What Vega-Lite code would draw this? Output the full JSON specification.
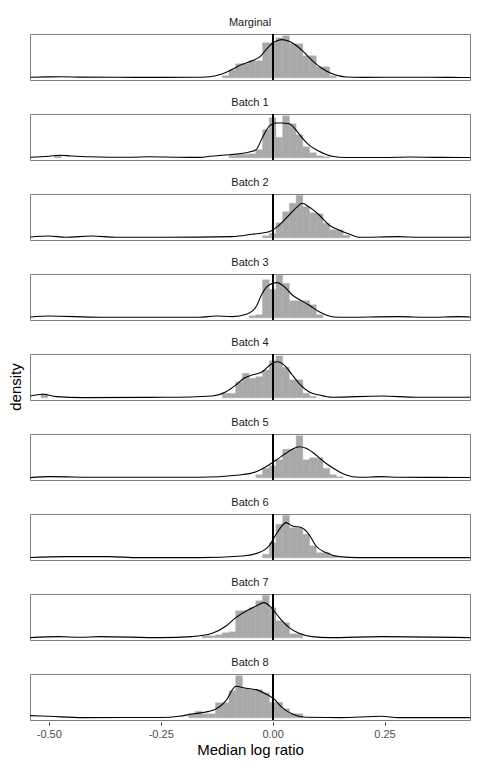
{
"$schema": "https://vega.github.io/schema/vega-lite/v6.json",
"padding": {"left": 8, "top": 16, "right": 9, "bottom": 5},
"config": {"font": "Liberation Sans", "view": {"stroke": "#7f7f7f", "strokeWidth": 1}, "axis": {"grid": false}},
"title": {"text": "density", "orient": "left", "anchor": "middle", "fontSize": 15, "fontWeight": "normal", "color": "#000000", "offset": 6},
"data": {"values": [
{"b":"Marginal","t":"h","lo":-0.1125,"hi":-0.0975,"v":2},
{"b":"Marginal","t":"h","lo":-0.0975,"hi":-0.0825,"v":8},
{"b":"Marginal","t":"h","lo":-0.0825,"hi":-0.0675,"v":14},
{"b":"Marginal","t":"h","lo":-0.0675,"hi":-0.0525,"v":14},
{"b":"Marginal","t":"h","lo":-0.0525,"hi":-0.0375,"v":17},
{"b":"Marginal","t":"h","lo":-0.0375,"hi":-0.0225,"v":17},
{"b":"Marginal","t":"h","lo":-0.0225,"hi":-0.0075,"v":35},
{"b":"Marginal","t":"h","lo":-0.0075,"hi":0.0075,"v":35},
{"b":"Marginal","t":"h","lo":0.0075,"hi":0.0225,"v":40},
{"b":"Marginal","t":"h","lo":0.0225,"hi":0.0375,"v":42},
{"b":"Marginal","t":"h","lo":0.0375,"hi":0.0525,"v":34},
{"b":"Marginal","t":"h","lo":0.0525,"hi":0.0675,"v":34},
{"b":"Marginal","t":"h","lo":0.0675,"hi":0.0825,"v":22},
{"b":"Marginal","t":"h","lo":0.0825,"hi":0.0975,"v":22},
{"b":"Marginal","t":"h","lo":0.0975,"hi":0.1125,"v":11},
{"b":"Marginal","t":"h","lo":0.1125,"hi":0.1275,"v":11},
{"b":"Marginal","t":"h","lo":0.1275,"hi":0.1425,"v":2},
{"b":"Marginal","t":"d","x":-0.541,"v":0.5},
{"b":"Marginal","t":"d","x":-0.5,"v":0.9},
{"b":"Marginal","t":"d","x":-0.47,"v":1.0},
{"b":"Marginal","t":"d","x":-0.43,"v":0.7},
{"b":"Marginal","t":"d","x":-0.35,"v":0.5},
{"b":"Marginal","t":"d","x":-0.25,"v":0.4},
{"b":"Marginal","t":"d","x":-0.18,"v":0.5},
{"b":"Marginal","t":"d","x":-0.14,"v":1.1},
{"b":"Marginal","t":"d","x":-0.113,"v":3.8},
{"b":"Marginal","t":"d","x":-0.09,"v":8.5},
{"b":"Marginal","t":"d","x":-0.068,"v":13.5},
{"b":"Marginal","t":"d","x":-0.046,"v":17},
{"b":"Marginal","t":"d","x":-0.026,"v":22},
{"b":"Marginal","t":"d","x":-0.015,"v":28},
{"b":"Marginal","t":"d","x":-0.008,"v":31.5},
{"b":"Marginal","t":"d","x":0.001,"v":35},
{"b":"Marginal","t":"d","x":0.01,"v":37},
{"b":"Marginal","t":"d","x":0.021,"v":38.2},
{"b":"Marginal","t":"d","x":0.037,"v":36.5},
{"b":"Marginal","t":"d","x":0.052,"v":32.5},
{"b":"Marginal","t":"d","x":0.068,"v":26.5},
{"b":"Marginal","t":"d","x":0.088,"v":17.5},
{"b":"Marginal","t":"d","x":0.11,"v":9.5},
{"b":"Marginal","t":"d","x":0.133,"v":4},
{"b":"Marginal","t":"d","x":0.164,"v":0.8},
{"b":"Marginal","t":"d","x":0.2,"v":0.4},
{"b":"Marginal","t":"d","x":0.25,"v":0.5},
{"b":"Marginal","t":"d","x":0.3,"v":0.5},
{"b":"Marginal","t":"d","x":0.35,"v":0.5},
{"b":"Marginal","t":"d","x":0.4,"v":0.4},
{"b":"Marginal","t":"d","x":0.441,"v":0.3},

{"b":"Batch 1","t":"h","lo":-0.4875,"hi":-0.4725,"v":2.5},
{"b":"Batch 1","t":"h","lo":-0.0975,"hi":-0.0825,"v":2},
{"b":"Batch 1","t":"h","lo":-0.0825,"hi":-0.0675,"v":3.5},
{"b":"Batch 1","t":"h","lo":-0.0675,"hi":-0.0525,"v":3.5},
{"b":"Batch 1","t":"h","lo":-0.0525,"hi":-0.0375,"v":4},
{"b":"Batch 1","t":"h","lo":-0.0375,"hi":-0.0225,"v":8},
{"b":"Batch 1","t":"h","lo":-0.0225,"hi":-0.0075,"v":28},
{"b":"Batch 1","t":"h","lo":-0.0075,"hi":0.0075,"v":40},
{"b":"Batch 1","t":"h","lo":0.0075,"hi":0.0225,"v":20.5},
{"b":"Batch 1","t":"h","lo":0.0225,"hi":0.0375,"v":42},
{"b":"Batch 1","t":"h","lo":0.0375,"hi":0.0525,"v":34},
{"b":"Batch 1","t":"h","lo":0.0525,"hi":0.0675,"v":23},
{"b":"Batch 1","t":"h","lo":0.0675,"hi":0.0825,"v":11},
{"b":"Batch 1","t":"h","lo":0.0825,"hi":0.0975,"v":5},
{"b":"Batch 1","t":"h","lo":0.0975,"hi":0.1125,"v":2},
{"b":"Batch 1","t":"h","lo":0.1125,"hi":0.1275,"v":1},
{"b":"Batch 1","t":"d","x":-0.541,"v":0.5},
{"b":"Batch 1","t":"d","x":-0.5,"v":1.5},
{"b":"Batch 1","t":"d","x":-0.477,"v":2.6},
{"b":"Batch 1","t":"d","x":-0.45,"v":1.8},
{"b":"Batch 1","t":"d","x":-0.41,"v":1},
{"b":"Batch 1","t":"d","x":-0.32,"v":0.5},
{"b":"Batch 1","t":"d","x":-0.276,"v":1},
{"b":"Batch 1","t":"d","x":-0.21,"v":0.5},
{"b":"Batch 1","t":"d","x":-0.16,"v":0.4},
{"b":"Batch 1","t":"d","x":-0.14,"v":1.5},
{"b":"Batch 1","t":"d","x":-0.097,"v":3},
{"b":"Batch 1","t":"d","x":-0.052,"v":5.8},
{"b":"Batch 1","t":"d","x":-0.037,"v":8},
{"b":"Batch 1","t":"d","x":-0.023,"v":20},
{"b":"Batch 1","t":"d","x":-0.008,"v":31.5},
{"b":"Batch 1","t":"d","x":0.0,"v":33.8},
{"b":"Batch 1","t":"d","x":0.008,"v":34.8},
{"b":"Batch 1","t":"d","x":0.02,"v":34.8},
{"b":"Batch 1","t":"d","x":0.037,"v":34},
{"b":"Batch 1","t":"d","x":0.052,"v":28},
{"b":"Batch 1","t":"d","x":0.066,"v":20},
{"b":"Batch 1","t":"d","x":0.081,"v":13},
{"b":"Batch 1","t":"d","x":0.104,"v":6.5},
{"b":"Batch 1","t":"d","x":0.133,"v":1.5},
{"b":"Batch 1","t":"d","x":0.164,"v":0.3},
{"b":"Batch 1","t":"d","x":0.25,"v":0.3},
{"b":"Batch 1","t":"d","x":0.305,"v":0.8},
{"b":"Batch 1","t":"d","x":0.372,"v":0.4},
{"b":"Batch 1","t":"d","x":0.441,"v":0.3},

{"b":"Batch 2","t":"h","lo":-0.0225,"hi":-0.0075,"v":2},
{"b":"Batch 2","t":"h","lo":-0.0075,"hi":0.0075,"v":4.5},
{"b":"Batch 2","t":"h","lo":0.0075,"hi":0.0225,"v":15},
{"b":"Batch 2","t":"h","lo":0.0225,"hi":0.0375,"v":26},
{"b":"Batch 2","t":"h","lo":0.0375,"hi":0.0525,"v":34.5},
{"b":"Batch 2","t":"h","lo":0.0525,"hi":0.0675,"v":42.5},
{"b":"Batch 2","t":"h","lo":0.0675,"hi":0.0825,"v":31},
{"b":"Batch 2","t":"h","lo":0.0825,"hi":0.0975,"v":25},
{"b":"Batch 2","t":"h","lo":0.0975,"hi":0.1125,"v":24},
{"b":"Batch 2","t":"h","lo":0.1125,"hi":0.1275,"v":14.5},
{"b":"Batch 2","t":"h","lo":0.1275,"hi":0.1425,"v":8},
{"b":"Batch 2","t":"h","lo":0.1425,"hi":0.1575,"v":8},
{"b":"Batch 2","t":"h","lo":0.1575,"hi":0.1725,"v":2.5},
{"b":"Batch 2","t":"d","x":-0.541,"v":0.8},
{"b":"Batch 2","t":"d","x":-0.5,"v":1.8},
{"b":"Batch 2","t":"d","x":-0.462,"v":0.5},
{"b":"Batch 2","t":"d","x":-0.404,"v":1.8},
{"b":"Batch 2","t":"d","x":-0.35,"v":0.5},
{"b":"Batch 2","t":"d","x":-0.24,"v":0.5},
{"b":"Batch 2","t":"d","x":-0.09,"v":1.2},
{"b":"Batch 2","t":"d","x":-0.046,"v":3.5},
{"b":"Batch 2","t":"d","x":-0.008,"v":6},
{"b":"Batch 2","t":"d","x":0.015,"v":12.8},
{"b":"Batch 2","t":"d","x":0.037,"v":22.8},
{"b":"Batch 2","t":"d","x":0.055,"v":31},
{"b":"Batch 2","t":"d","x":0.066,"v":34.5},
{"b":"Batch 2","t":"d","x":0.081,"v":31},
{"b":"Batch 2","t":"d","x":0.104,"v":22.8},
{"b":"Batch 2","t":"d","x":0.126,"v":12.8},
{"b":"Batch 2","t":"d","x":0.148,"v":7.8},
{"b":"Batch 2","t":"d","x":0.171,"v":3.8},
{"b":"Batch 2","t":"d","x":0.193,"v":0.5},
{"b":"Batch 2","t":"d","x":0.282,"v":1.2},
{"b":"Batch 2","t":"d","x":0.327,"v":0.5},
{"b":"Batch 2","t":"d","x":0.441,"v":0.5},

{"b":"Batch 3","t":"h","lo":-0.0525,"hi":-0.0375,"v":2},
{"b":"Batch 3","t":"h","lo":-0.0375,"hi":-0.0225,"v":3},
{"b":"Batch 3","t":"h","lo":-0.0225,"hi":-0.0075,"v":38},
{"b":"Batch 3","t":"h","lo":-0.0075,"hi":0.0075,"v":28.5},
{"b":"Batch 3","t":"h","lo":0.0075,"hi":0.0225,"v":43},
{"b":"Batch 3","t":"h","lo":0.0225,"hi":0.0375,"v":34.5},
{"b":"Batch 3","t":"h","lo":0.0375,"hi":0.0525,"v":17},
{"b":"Batch 3","t":"h","lo":0.0525,"hi":0.0675,"v":17},
{"b":"Batch 3","t":"h","lo":0.0675,"hi":0.0825,"v":17},
{"b":"Batch 3","t":"h","lo":0.0825,"hi":0.0975,"v":13},
{"b":"Batch 3","t":"h","lo":0.0975,"hi":0.1125,"v":3},
{"b":"Batch 3","t":"d","x":-0.541,"v":0.8},
{"b":"Batch 3","t":"d","x":-0.499,"v":1.8},
{"b":"Batch 3","t":"d","x":-0.387,"v":0.5},
{"b":"Batch 3","t":"d","x":-0.164,"v":0.5},
{"b":"Batch 3","t":"d","x":-0.126,"v":1.8},
{"b":"Batch 3","t":"d","x":-0.09,"v":1.2},
{"b":"Batch 3","t":"d","x":-0.057,"v":3.8},
{"b":"Batch 3","t":"d","x":-0.037,"v":11},
{"b":"Batch 3","t":"d","x":-0.023,"v":24.5},
{"b":"Batch 3","t":"d","x":-0.008,"v":32.8},
{"b":"Batch 3","t":"d","x":0.01,"v":35.2},
{"b":"Batch 3","t":"d","x":0.03,"v":29.5},
{"b":"Batch 3","t":"d","x":0.044,"v":22.8},
{"b":"Batch 3","t":"d","x":0.059,"v":18.5},
{"b":"Batch 3","t":"d","x":0.081,"v":12.8},
{"b":"Batch 3","t":"d","x":0.104,"v":6},
{"b":"Batch 3","t":"d","x":0.126,"v":1.8},
{"b":"Batch 3","t":"d","x":0.148,"v":0.5},
{"b":"Batch 3","t":"d","x":0.282,"v":1.2},
{"b":"Batch 3","t":"d","x":0.35,"v":0.5},
{"b":"Batch 3","t":"d","x":0.416,"v":1.2},
{"b":"Batch 3","t":"d","x":0.441,"v":0.8},

{"b":"Batch 4","t":"h","lo":-0.5175,"hi":-0.5025,"v":4},
{"b":"Batch 4","t":"h","lo":-0.1125,"hi":-0.0975,"v":4.5},
{"b":"Batch 4","t":"h","lo":-0.0975,"hi":-0.0825,"v":4.5},
{"b":"Batch 4","t":"h","lo":-0.0825,"hi":-0.0675,"v":16},
{"b":"Batch 4","t":"h","lo":-0.0675,"hi":-0.0525,"v":24.5},
{"b":"Batch 4","t":"h","lo":-0.0525,"hi":-0.0375,"v":19.5},
{"b":"Batch 4","t":"h","lo":-0.0375,"hi":-0.0225,"v":21},
{"b":"Batch 4","t":"h","lo":-0.0225,"hi":-0.0075,"v":27.8},
{"b":"Batch 4","t":"h","lo":-0.0075,"hi":0.0075,"v":37},
{"b":"Batch 4","t":"h","lo":0.0075,"hi":0.0225,"v":41.8},
{"b":"Batch 4","t":"h","lo":0.0225,"hi":0.0375,"v":30.5},
{"b":"Batch 4","t":"h","lo":0.0375,"hi":0.0525,"v":18},
{"b":"Batch 4","t":"h","lo":0.0525,"hi":0.0675,"v":18},
{"b":"Batch 4","t":"h","lo":0.0675,"hi":0.0825,"v":4.5},
{"b":"Batch 4","t":"h","lo":0.0825,"hi":0.0975,"v":1.5},
{"b":"Batch 4","t":"d","x":-0.541,"v":1.8},
{"b":"Batch 4","t":"d","x":-0.514,"v":3.5},
{"b":"Batch 4","t":"d","x":-0.483,"v":1.2},
{"b":"Batch 4","t":"d","x":-0.424,"v":0.2},
{"b":"Batch 4","t":"d","x":-0.24,"v":0.5},
{"b":"Batch 4","t":"d","x":-0.135,"v":1.8},
{"b":"Batch 4","t":"d","x":-0.104,"v":6},
{"b":"Batch 4","t":"d","x":-0.082,"v":12.8},
{"b":"Batch 4","t":"d","x":-0.064,"v":19.5},
{"b":"Batch 4","t":"d","x":-0.046,"v":22.8},
{"b":"Batch 4","t":"d","x":-0.023,"v":26},
{"b":"Batch 4","t":"d","x":-0.003,"v":33.8},
{"b":"Batch 4","t":"d","x":0.01,"v":36},
{"b":"Batch 4","t":"d","x":0.03,"v":31},
{"b":"Batch 4","t":"d","x":0.044,"v":22.8},
{"b":"Batch 4","t":"d","x":0.059,"v":14.5},
{"b":"Batch 4","t":"d","x":0.081,"v":6},
{"b":"Batch 4","t":"d","x":0.104,"v":2.8},
{"b":"Batch 4","t":"d","x":0.133,"v":0.5},
{"b":"Batch 4","t":"d","x":0.244,"v":1.8},
{"b":"Batch 4","t":"d","x":0.32,"v":0.5},
{"b":"Batch 4","t":"d","x":0.441,"v":0.5},

{"b":"Batch 5","t":"h","lo":-0.0375,"hi":-0.0225,"v":3},
{"b":"Batch 5","t":"h","lo":-0.0225,"hi":-0.0075,"v":9.5},
{"b":"Batch 5","t":"h","lo":-0.0075,"hi":0.0075,"v":12},
{"b":"Batch 5","t":"h","lo":0.0075,"hi":0.0225,"v":18},
{"b":"Batch 5","t":"h","lo":0.0225,"hi":0.0375,"v":28.5},
{"b":"Batch 5","t":"h","lo":0.0375,"hi":0.0525,"v":28.5},
{"b":"Batch 5","t":"h","lo":0.0525,"hi":0.0675,"v":42},
{"b":"Batch 5","t":"h","lo":0.0675,"hi":0.0825,"v":18},
{"b":"Batch 5","t":"h","lo":0.0825,"hi":0.0975,"v":20},
{"b":"Batch 5","t":"h","lo":0.0975,"hi":0.1125,"v":20},
{"b":"Batch 5","t":"h","lo":0.1125,"hi":0.1275,"v":9.5},
{"b":"Batch 5","t":"h","lo":0.1275,"hi":0.1425,"v":3},
{"b":"Batch 5","t":"h","lo":0.1425,"hi":0.1575,"v":1},
{"b":"Batch 5","t":"d","x":-0.541,"v":0.2},
{"b":"Batch 5","t":"d","x":-0.499,"v":1.2},
{"b":"Batch 5","t":"d","x":-0.387,"v":0.5},
{"b":"Batch 5","t":"d","x":-0.164,"v":0.5},
{"b":"Batch 5","t":"d","x":-0.075,"v":2.8},
{"b":"Batch 5","t":"d","x":-0.037,"v":6},
{"b":"Batch 5","t":"d","x":-0.015,"v":11},
{"b":"Batch 5","t":"d","x":0.008,"v":17.8},
{"b":"Batch 5","t":"d","x":0.03,"v":24.5},
{"b":"Batch 5","t":"d","x":0.044,"v":28.5},
{"b":"Batch 5","t":"d","x":0.059,"v":31},
{"b":"Batch 5","t":"d","x":0.075,"v":29.5},
{"b":"Batch 5","t":"d","x":0.097,"v":22.8},
{"b":"Batch 5","t":"d","x":0.119,"v":14.5},
{"b":"Batch 5","t":"d","x":0.142,"v":7.8},
{"b":"Batch 5","t":"d","x":0.164,"v":2.8},
{"b":"Batch 5","t":"d","x":0.193,"v":0.5},
{"b":"Batch 5","t":"d","x":0.244,"v":1.2},
{"b":"Batch 5","t":"d","x":0.282,"v":0.5},
{"b":"Batch 5","t":"d","x":0.441,"v":0.3},

{"b":"Batch 6","t":"h","lo":-0.0225,"hi":-0.0075,"v":3.5},
{"b":"Batch 6","t":"h","lo":-0.0075,"hi":0.0075,"v":15},
{"b":"Batch 6","t":"h","lo":0.0075,"hi":0.0225,"v":33.5},
{"b":"Batch 6","t":"h","lo":0.0225,"hi":0.0375,"v":42.5},
{"b":"Batch 6","t":"h","lo":0.0375,"hi":0.0525,"v":30},
{"b":"Batch 6","t":"h","lo":0.0525,"hi":0.0675,"v":30},
{"b":"Batch 6","t":"h","lo":0.0675,"hi":0.0825,"v":23.5},
{"b":"Batch 6","t":"h","lo":0.0825,"hi":0.0975,"v":12},
{"b":"Batch 6","t":"h","lo":0.0975,"hi":0.1125,"v":5},
{"b":"Batch 6","t":"h","lo":0.1125,"hi":0.1275,"v":5},
{"b":"Batch 6","t":"h","lo":0.1275,"hi":0.1425,"v":2},
{"b":"Batch 6","t":"d","x":-0.541,"v":0.3},
{"b":"Batch 6","t":"d","x":-0.462,"v":1.2},
{"b":"Batch 6","t":"d","x":-0.366,"v":1.2},
{"b":"Batch 6","t":"d","x":-0.3,"v":0.2},
{"b":"Batch 6","t":"d","x":-0.164,"v":0.2},
{"b":"Batch 6","t":"d","x":-0.068,"v":1.8},
{"b":"Batch 6","t":"d","x":-0.03,"v":5.2},
{"b":"Batch 6","t":"d","x":-0.008,"v":11.8},
{"b":"Batch 6","t":"d","x":0.01,"v":25},
{"b":"Batch 6","t":"d","x":0.03,"v":35.2},
{"b":"Batch 6","t":"d","x":0.044,"v":31.8},
{"b":"Batch 6","t":"d","x":0.064,"v":30.2},
{"b":"Batch 6","t":"d","x":0.081,"v":23.5},
{"b":"Batch 6","t":"d","x":0.097,"v":11.8},
{"b":"Batch 6","t":"d","x":0.119,"v":5.2},
{"b":"Batch 6","t":"d","x":0.148,"v":1.2},
{"b":"Batch 6","t":"d","x":0.193,"v":0.2},
{"b":"Batch 6","t":"d","x":0.441,"v":0.2},

{"b":"Batch 7","t":"h","lo":-0.1575,"hi":-0.1425,"v":2},
{"b":"Batch 7","t":"h","lo":-0.1425,"hi":-0.1275,"v":2},
{"b":"Batch 7","t":"h","lo":-0.1275,"hi":-0.1125,"v":3},
{"b":"Batch 7","t":"h","lo":-0.1125,"hi":-0.0975,"v":5},
{"b":"Batch 7","t":"h","lo":-0.0975,"hi":-0.0825,"v":6},
{"b":"Batch 7","t":"h","lo":-0.0825,"hi":-0.0675,"v":27},
{"b":"Batch 7","t":"h","lo":-0.0675,"hi":-0.0525,"v":27},
{"b":"Batch 7","t":"h","lo":-0.0525,"hi":-0.0375,"v":30},
{"b":"Batch 7","t":"h","lo":-0.0375,"hi":-0.0225,"v":37},
{"b":"Batch 7","t":"h","lo":-0.0225,"hi":-0.0075,"v":42.5},
{"b":"Batch 7","t":"h","lo":-0.0075,"hi":0.0075,"v":30},
{"b":"Batch 7","t":"h","lo":0.0075,"hi":0.0225,"v":17},
{"b":"Batch 7","t":"h","lo":0.0225,"hi":0.0375,"v":15},
{"b":"Batch 7","t":"h","lo":0.0375,"hi":0.0525,"v":4},
{"b":"Batch 7","t":"h","lo":0.0525,"hi":0.0675,"v":4},
{"b":"Batch 7","t":"d","x":-0.541,"v":0.2},
{"b":"Batch 7","t":"d","x":-0.477,"v":1.2},
{"b":"Batch 7","t":"d","x":-0.43,"v":0.5},
{"b":"Batch 7","t":"d","x":-0.387,"v":1.2},
{"b":"Batch 7","t":"d","x":-0.25,"v":0.2},
{"b":"Batch 7","t":"d","x":-0.18,"v":1.2},
{"b":"Batch 7","t":"d","x":-0.135,"v":4.5},
{"b":"Batch 7","t":"d","x":-0.104,"v":11.8},
{"b":"Batch 7","t":"d","x":-0.082,"v":20.2},
{"b":"Batch 7","t":"d","x":-0.059,"v":26.8},
{"b":"Batch 7","t":"d","x":-0.037,"v":31.8},
{"b":"Batch 7","t":"d","x":-0.019,"v":35.2},
{"b":"Batch 7","t":"d","x":-0.003,"v":30.2},
{"b":"Batch 7","t":"d","x":0.015,"v":20.2},
{"b":"Batch 7","t":"d","x":0.037,"v":10.2},
{"b":"Batch 7","t":"d","x":0.059,"v":4.5},
{"b":"Batch 7","t":"d","x":0.088,"v":1.2},
{"b":"Batch 7","t":"d","x":0.126,"v":0.2},
{"b":"Batch 7","t":"d","x":0.244,"v":1.2},
{"b":"Batch 7","t":"d","x":0.441,"v":0.2},

{"b":"Batch 8","t":"h","lo":-0.1875,"hi":-0.1725,"v":4},
{"b":"Batch 8","t":"h","lo":-0.1725,"hi":-0.1575,"v":6.5},
{"b":"Batch 8","t":"h","lo":-0.1575,"hi":-0.1425,"v":4},
{"b":"Batch 8","t":"h","lo":-0.1425,"hi":-0.1275,"v":4},
{"b":"Batch 8","t":"h","lo":-0.1275,"hi":-0.1125,"v":15},
{"b":"Batch 8","t":"h","lo":-0.1125,"hi":-0.0975,"v":15},
{"b":"Batch 8","t":"h","lo":-0.0975,"hi":-0.0825,"v":27},
{"b":"Batch 8","t":"h","lo":-0.0825,"hi":-0.0675,"v":42},
{"b":"Batch 8","t":"h","lo":-0.0675,"hi":-0.0525,"v":29},
{"b":"Batch 8","t":"h","lo":-0.0525,"hi":-0.0375,"v":28},
{"b":"Batch 8","t":"h","lo":-0.0375,"hi":-0.0225,"v":28},
{"b":"Batch 8","t":"h","lo":-0.0225,"hi":-0.0075,"v":25},
{"b":"Batch 8","t":"h","lo":-0.0075,"hi":0.0075,"v":15.5},
{"b":"Batch 8","t":"h","lo":0.0075,"hi":0.0225,"v":15.5},
{"b":"Batch 8","t":"h","lo":0.0225,"hi":0.0375,"v":9},
{"b":"Batch 8","t":"h","lo":0.0375,"hi":0.0525,"v":4},
{"b":"Batch 8","t":"h","lo":0.0525,"hi":0.0675,"v":4},
{"b":"Batch 8","t":"d","x":-0.541,"v":2.2},
{"b":"Batch 8","t":"d","x":-0.499,"v":1.5},
{"b":"Batch 8","t":"d","x":-0.424,"v":0.2},
{"b":"Batch 8","t":"d","x":-0.25,"v":0.3},
{"b":"Batch 8","t":"d","x":-0.209,"v":1.5},
{"b":"Batch 8","t":"d","x":-0.18,"v":3.8},
{"b":"Batch 8","t":"d","x":-0.135,"v":7.2},
{"b":"Batch 8","t":"d","x":-0.104,"v":17.2},
{"b":"Batch 8","t":"d","x":-0.082,"v":31.5},
{"b":"Batch 8","t":"d","x":-0.059,"v":29.5},
{"b":"Batch 8","t":"d","x":-0.037,"v":28.2},
{"b":"Batch 8","t":"d","x":-0.015,"v":23.8},
{"b":"Batch 8","t":"d","x":0.003,"v":18.8},
{"b":"Batch 8","t":"d","x":0.021,"v":10.5},
{"b":"Batch 8","t":"d","x":0.044,"v":3.8},
{"b":"Batch 8","t":"d","x":0.075,"v":0.5},
{"b":"Batch 8","t":"d","x":0.15,"v":0.2},
{"b":"Batch 8","t":"d","x":0.244,"v":1.5},
{"b":"Batch 8","t":"d","x":0.282,"v":0.2},
{"b":"Batch 8","t":"d","x":0.441,"v":0.2}
]},
"facet": {"field": "b", "type": "nominal", "sort": ["Marginal","Batch 1","Batch 2","Batch 3","Batch 4","Batch 5","Batch 6","Batch 7","Batch 8"], "header": {"title": null, "labelFontSize": 11, "labelColor": "#1a1a1a", "labelFont": "Liberation Sans", "labelPadding": 5}},
"columns": 1,
"spacing": 14,
"spec": {
  "width": 440,
  "height": 46,
  "layer": [
    {"transform": [{"filter": "datum.t == 'h'"}],
     "mark": {"type": "bar", "color": "#A9A9A9", "stroke": "#A9A9A9", "strokeWidth": 0.4, "clip": true},
     "encoding": {
       "x": {"field": "lo", "type": "quantitative", "title": "Median log ratio",
             "scale": {"domain": [-0.542, 0.441], "nice": false, "zero": false},
             "axis": {"values": [-0.5, -0.25, 0, 0.25], "labelExpr": "replace(format(datum.value, '.2f'), '\u2212', '-')", "labelFontSize": 11, "labelColor": "#4d4d4d", "tickColor": "#333333", "tickSize": 3, "domain": false, "titleFontSize": 15, "titleFontWeight": "normal", "titleColor": "#000000", "titlePadding": 3, "labelPadding": 3}},
       "x2": {"field": "hi"},
       "y": {"field": "v", "type": "quantitative", "scale": {"domain": [-2.2, 43.8], "nice": false, "zero": false}, "axis": null},
       "y2": {"datum": 0}
     }},
    {"transform": [{"filter": "datum.t == 'd'"}],
     "mark": {"type": "line", "color": "#000000", "strokeWidth": 1.1, "interpolate": "monotone", "clip": true},
     "encoding": {
       "x": {"field": "x", "type": "quantitative"},
       "y": {"field": "v", "type": "quantitative"}
     }},
    {"mark": {"type": "rule", "color": "#000000", "strokeWidth": 1.1},
     "encoding": {"x": {"datum": 0}}}
  ]
}
}
